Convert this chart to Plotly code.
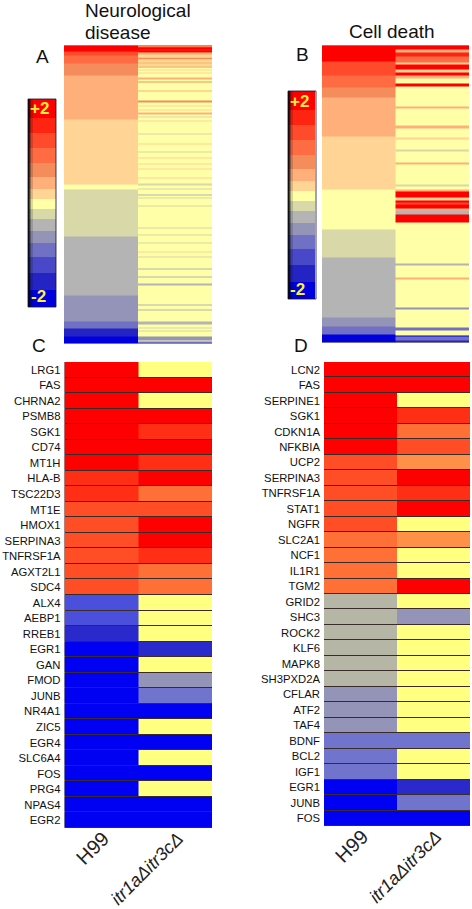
import plotly.graph_objects as go

W, H = 472, 909
FONT = "Liberation Sans, Arial, sans-serif"

# colour levels, +7 (about +2) down to -7 (about -2)
LEVELS = list(range(7, -8, -1))
TOP_COLORS = ["#ff0000", "#ff2412", "#ff4a2c", "#ff6c44", "#f48c5c", "#ffb07a", "#ffd494", "#ffffa8",
              "#d8d8a8", "#b4b4b4", "#9494b8", "#7070c4", "#4848c8", "#2424c4", "#0000dc"]
LOW_COLORS = ["#ff0000", "#ff2e14", "#ff4e26", "#ff7036", "#ff9048", "#ffb070", "#ffd490", "#ffff80",
              "#d8d8a0", "#b6b6a6", "#9494b8", "#7074cc", "#4a50dc", "#2a2acc", "#0000f2"]

# colour key
key_edges = [0, 57, 102, 147, 192, 232, 267, 297, 327, 357, 392, 430, 472, 520, 568, 620]

# Panel A: Neurological disease, ranked genes
a_h99_edges = [0, 6, 10, 18, 30, 74, 139, 144, 191, 250, 276, 283, 290.5, 298]
a_h99_levels = [7, 5, 4, 3, 2, 1, 0, -1, -2, -3, -4, -6, -7]
a_mut_starts = [0, 1, 2, 4, 5, 7, 8, 10, 12, 15, 17, 19, 21, 24, 27, 32, 36, 44.5, 55, 60, 64, 67, 71, 75, 88, 98, 106,
                111.5, 118, 123, 131.5, 137.5, 143, 149, 152, 159.5, 182, 189, 196.5, 206, 211, 223, 231, 238, 259,
                264, 275.7, 281.7, 284.7, 291, 296]
a_mut_sizes = [1, 1, 2, 1, 2, 1, 1, 1, 2, 1, 1, 1, 1, 1, 1, 2, 1, 1, 1.5, 1, 1, 2, 1, 1, 1, 1, 1,
               1, 1, 1, 1, 2.5, 1, 1, 1, 1.5, 1, 1, 1, 1, 1, 1, 1, 2, 1,
               1, 3.3, 1, 1, 4, 2]
a_mut_levels = [2, 5, 7, 6, 7, 1, 3, 2, 3, 2, 3, 2, 3, 1, 1, 2, 3, 2, 3, 1, 1, 2, -1, 1, -1, 1, -1,
                1, 1, 1, 1, -1, -1, -2, -1, -1, -1, -1, -1, 1, -1, -2, -2, -2, -2,
                -2, -2, -1, -1, -3, -4]

# Panel B: Cell death, ranked genes
b_h99_edges = [0, 16, 30, 41.5, 52, 91, 144, 184, 212, 272, 281, 289, 297]
b_h99_levels = [7, 5, 4, 3, 2, 1, 0, -1, -2, -3, -4, -7]
b_mut_starts = [0, 4, 6.5, 10.5, 16.5, 19, 24, 27, 30, 38, 61, 80, 92, 104, 117, 139, 144, 146, 152, 155, 157, 158.5,
                163, 165, 169, 218, 232, 262, 282, 289.5, 291, 294.5]
b_mut_sizes = [4, 2.5, 4, 6, 2.5, 5, 3, 3, 3, 2.5, 2, 2.5, 1.5, 1.5, 1.5, 2, 2, 6, 3, 2, 1.5, 4.5,
               2, 4, 8, 1.5, 1.5, 2, 2.5, 1.5, 3.5, 2.5]
b_mut_levels = [7, 2, 6, 4, 1, 7, 1, 7, 2, 7, 2, 2, 1, -1, 2, -1, 2, 7, 1, 7, 5, 7,
                2, -2, 7, -2, 2, -3, -4, -7, -4, -6]

# Panel C
c_genes = ["LRG1", "FAS", "CHRNA2", "PSMB8", "SGK1", "CD74", "MT1H", "HLA-B", "TSC22D3", "MT1E", "HMOX1", "SERPINA3",
           "TNFRSF1A", "AGXT2L1", "SDC4", "ALX4", "AEBP1", "RREB1", "EGR1", "GAN", "FMOD", "JUNB", "NR4A1", "ZIC5",
           "EGR4", "SLC6A4", "FOS", "PRG4", "NPAS4", "EGR2"]
c_h99 = [7, 7, 7, 7, 7, 7, 7, 6, 6, 5, 5, 5, 5, 5, 5, -5, -5, -6, -7, -7, -7, -7, -7, -7, -7, -7, -7, -7, -7, -7]
c_mut = [0, 7, 0, 7, 6, 7, 6, 7, 4, 5, 7, 7, 6, 4, 4, 0, 0, 0, -6, 0, -3, -4, -7, 0, -7, 0, -7, 0, -7, -7]

# Panel D
d_genes = ["LCN2", "FAS", "SERPINE1", "SGK1", "CDKN1A", "NFKBIA", "UCP2", "SERPINA3", "TNFRSF1A", "STAT1", "NGFR",
           "SLC2A1", "NCF1", "IL1R1", "TGM2", "GRID2", "SHC3", "ROCK2", "KLF6", "MAPK8", "SH3PXD2A", "CFLAR", "ATF2",
           "TAF4", "BDNF", "BCL2", "IGF1", "EGR1", "JUNB", "FOS"]
d_h99 = [7, 7, 7, 7, 7, 7, 5, 5, 5, 5, 5, 4, 4, 4, 4, -2, -2, -2, -2, -2, -2, -3, -3, -3, -4, -4, -4, -7, -7, -7]
d_mut = [7, 7, 0, 6, 4, 5, 3, 7, 6, 7, 0, 3, 0, 0, 7, 0, -3, 0, 0, 0, 0, 0, 0, 0, -4, 0, 0, -6, -4, -7]

strains = ["H99", '<span style="font-size:18px"><i>itr1aΔitr3cΔ</i></span>']


def scale(colors):
    # stepped colour scale, lowest level first
    rev = colors[::-1]
    out = []
    n = len(rev)
    for i, c in enumerate(rev):
        out += [[i / n, c], [(i + 1) / n, c]]
    return out


def stripes(starts, sizes, levels, total):
    # stripes on the pale background of the mutant column
    edges, vals, pos = [0], [], 0
    for s, t, v in zip(starts, sizes, levels):
        if s > pos:
            edges.append(s)
            vals.append(0)
        edges.append(s + t)
        vals.append(v)
        pos = s + t
    if pos < total:
        edges.append(total)
        vals.append(0)
    return edges, vals


def dom_x(a, b):
    return [a / W, b / W]


def dom_y(top, bot):
    return [1 - bot / H, 1 - top / H]


fig = go.Figure()
TOP = scale(TOP_COLORS)
LOW = scale(LOW_COLORS)


def band(xax, yax, x, edges, levels, cs):
    fig.add_trace(go.Heatmap(x=x, y=edges, z=[[v] for v in levels], zmin=-7.5, zmax=7.5, colorscale=cs,
                             showscale=False, xaxis=xax, yaxis=yax, hoverinfo="skip"))


# A
band("x", "y", [0, 1], a_h99_edges, a_h99_levels, TOP)
e, v = stripes(a_mut_starts, a_mut_sizes, a_mut_levels, 298)
band("x", "y", [1, 2], e, v, TOP)
# B
band("x2", "y2", [0, 1], b_h99_edges, b_h99_levels, TOP)
e, v = stripes(b_mut_starts, b_mut_sizes, b_mut_levels, 297)
band("x2", "y2", [1, 2], e, v, TOP)
# C, D
for xa, ya, genes, h99, mut in [("x3", "y3", c_genes, c_h99, c_mut), ("x4", "y4", d_genes, d_h99, d_mut)]:
    fig.add_trace(go.Heatmap(x=strains, y=genes, z=[[p, q] for p, q in zip(h99, mut)], zmin=-7.5, zmax=7.5,
                             colorscale=LOW, showscale=False, xaxis=xa, yaxis=ya, ygap=1, hoverinfo="skip"))
# colour keys
band("x5", "y5", [0, 1], key_edges, LEVELS, TOP)
band("x6", "y6", [0, 1], key_edges, LEVELS, TOP)

hidden = dict(visible=False, fixedrange=True, automargin=False)
xlabels = dict(tickangle=-45, tickfont=dict(size=20, color="#222"), ticks="", showgrid=False, zeroline=False,
               showline=False, fixedrange=True, ticklabelshift=2, ticklabelstandoff=0, automargin=False)
ylabels = dict(autorange="reversed", tickfont=dict(size=11.3, color="#111"), ticks="", showgrid=False, zeroline=False,
               showline=False, ticklabelstandoff=3, fixedrange=True, dtick=1, automargin=False)
layout = dict(
    width=W, height=H, autosize=False, margin=dict(l=0, r=0, t=0, b=0), paper_bgcolor="white",
    plot_bgcolor="#3a2a2a", showlegend=False, font=dict(family=FONT, color="#111"),
    xaxis=dict(domain=dom_x(64, 212), range=[0, 2], **hidden),
    yaxis=dict(domain=dom_y(45.5, 343.5), range=[298, 0], anchor="x", **hidden),
    xaxis2=dict(domain=dom_x(322, 469), range=[0, 2], anchor="y2", **hidden),
    yaxis2=dict(domain=dom_y(45.5, 342.5), range=[297, 0], anchor="x2", **hidden),
    xaxis3=dict(domain=dom_x(64.5, 212), anchor="free", position=1 - 822 / H, **xlabels),
    yaxis3=dict(domain=dom_y(362, 828), anchor="x3", **ylabels),
    xaxis4=dict(domain=dom_x(324, 470), anchor="free", position=1 - 820 / H, **xlabels),
    yaxis4=dict(domain=dom_y(362, 826), anchor="x4", **ylabels),
    xaxis5=dict(domain=dom_x(28, 56), range=[0, 1], anchor="y5", **hidden),
    yaxis5=dict(domain=dom_y(99, 307), range=[620, 0], anchor="x5", **hidden),
    xaxis6=dict(domain=dom_x(288, 315), range=[0, 1], anchor="y6", **hidden),
    yaxis6=dict(domain=dom_y(91, 299), range=[620, 0], anchor="x6", **hidden),
)
fig.update_layout(**layout)


def note(text, x, y, size, color="#111", bold=False, align="center"):
    fig.add_annotation(xref="paper", yref="paper", x=x / W, y=1 - y / H, text=f"<b>{text}</b>" if bold else text,
                       showarrow=False, xanchor=align, yanchor="middle",
                       font=dict(size=size, color=color, family=FONT), align=align)


note("Neurological", 83, 11, 19, align="left")
note("disease", 83, 32, 19, align="left")
note("Cell death", 392, 31, 19)
note("A", 42, 57, 19)
note("B", 302, 54, 19)
note("C", 39, 345, 19)
note("D", 301, 345, 19)
note("+2", 39, 109, 17, "#ffee33", True)
note("-2", 38, 296, 17, "#ffee33", True)
note("+2", 299, 101, 17, "#ffee33", True)
note("-2", 297, 289, 17, "#ffee33", True)

# dark shaded left side and frame of the colour keys
for left, top in [(28, 99), (288, 91)]:
    for dx, alpha in [(1, 0.75), (2, 0.5), (3, 0.3), (5, 0.15)]:
        fig.add_shape(type="rect", xref="paper", yref="paper", x0=left / W, x1=(left + dx) / W,
                      y0=1 - (top + 208) / H, y1=1 - top / H, fillcolor=f"rgba(0,0,0,{alpha})", line_width=0)
    fig.add_shape(type="rect", xref="paper", yref="paper", x0=left / W, x1=(left + 28) / W,
                  y0=1 - (top + 208) / H, y1=1 - top / H, line=dict(color="rgba(20,20,40,0.8)", width=1))

fig.write_html("out.html", config={"displayModeBar": False},
               post_script="document.body.style.margin='0';document.body.style.overflow='hidden';")
